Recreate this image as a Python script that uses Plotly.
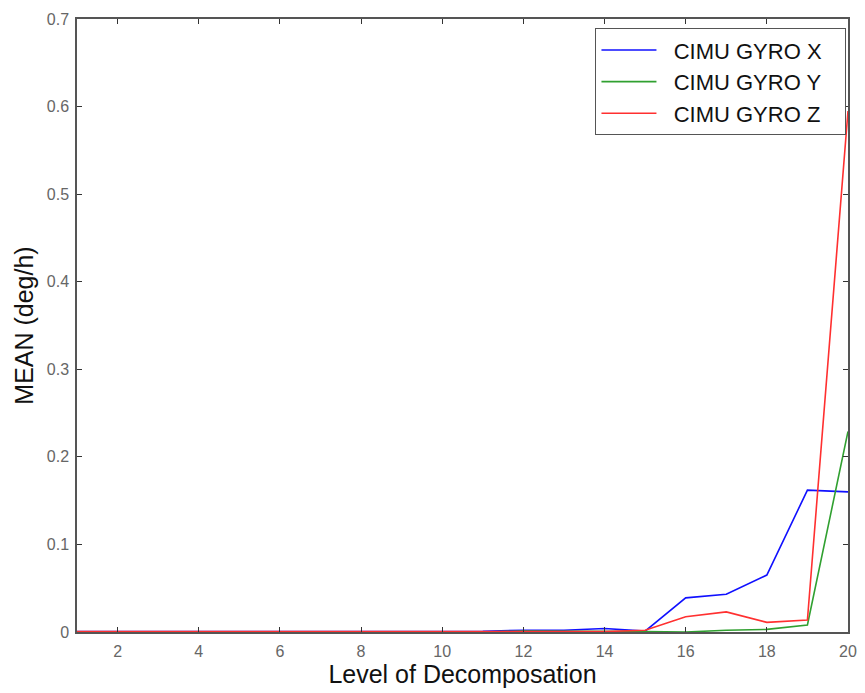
import plotly.graph_objects as go

# Decomposition levels and mean drift per gyro axis (deg/h)
levels = list(range(1, 21))
gyro_x = [0.0005, 0.0005, 0.0005, 0.0005, 0.0005, 0.0005, 0.0005, 0.0005, 0.0005, 0.0005,
          0.0008, 0.002, 0.002, 0.004, 0.001, 0.039, 0.043, 0.065, 0.162, 0.160]
gyro_y = [0.0, 0.0, 0.0, 0.0, 0.0, 0.0, 0.0, 0.0, 0.0, 0.0,
          0.0, 0.001, 0.001, 0.0005, 0.0005, 0.0, 0.002, 0.003, 0.008, 0.229]
gyro_z = [0.0005, 0.0005, 0.0005, 0.0005, 0.0005, 0.0005, 0.0005, 0.0005, 0.0005, 0.0005,
          0.0005, 0.0005, 0.0005, 0.0005, 0.002, 0.0175, 0.023, 0.011, 0.0137, 0.595]

series_names = ["CIMU GYRO X", "CIMU GYRO Y", "CIMU GYRO Z"]
series_colors = ["#1010ff", "#30a030", "#ff3030"]

y_ticks = [0, 0.1, 0.2, 0.3, 0.4, 0.5, 0.6, 0.7]
y_tick_labels = ["0", "0.1", "0.2", "0.3", "0.4", "0.5", "0.6", "0.7"]
x_ticks = [2, 4, 6, 8, 10, 12, 14, 16, 18, 20]

FONT = "Liberation Sans, Arial, sans-serif"
NBSP = "\u00a0"

fig = go.Figure()
for name, values, color in zip(series_names, [gyro_x, gyro_y, gyro_z], series_colors):
    fig.add_trace(go.Scatter(x=levels, y=values, mode="lines",
                             name=NBSP * 2 + name + NBSP * 3,
                             line=dict(color=color, width=1.6)))

axis_common = dict(showgrid=False, zeroline=False, showline=True, mirror="allticks",
                   linecolor="#555555", linewidth=1.5, ticks="inside", ticklen=5,
                   tickcolor="#333333",
                   tickfont=dict(family=FONT, size=16, color="#666666"))

fig.update_xaxes(range=[1, 20], tickvals=x_ticks, ticklabelstandoff=4,
                 title=dict(text="Level of Decomposation", standoff=5,
                            font=dict(family=FONT, size=25, color="#111111")),
                 **axis_common)
fig.update_yaxes(range=[0, 0.7], tickvals=y_ticks, ticktext=y_tick_labels,
                 ticklabelstandoff=3,
                 title=dict(text="MEAN (deg/h)", standoff=6,
                            font=dict(family=FONT, size=25, color="#111111")),
                 **axis_common)

fig.update_layout(
    width=865, height=693,
    margin=dict(l=77, r=8, t=19, b=61),
    plot_bgcolor="white", paper_bgcolor="white",
    showlegend=True,
    legend=dict(x=0.998, y=0.985, xanchor="right", yanchor="top",
                bgcolor="white", bordercolor="#555555", borderwidth=1,
                font=dict(family=FONT, size=22, color="#111111"),
                tracegroupgap=0, itemwidth=55),
)

fig.write_html("out.html")
